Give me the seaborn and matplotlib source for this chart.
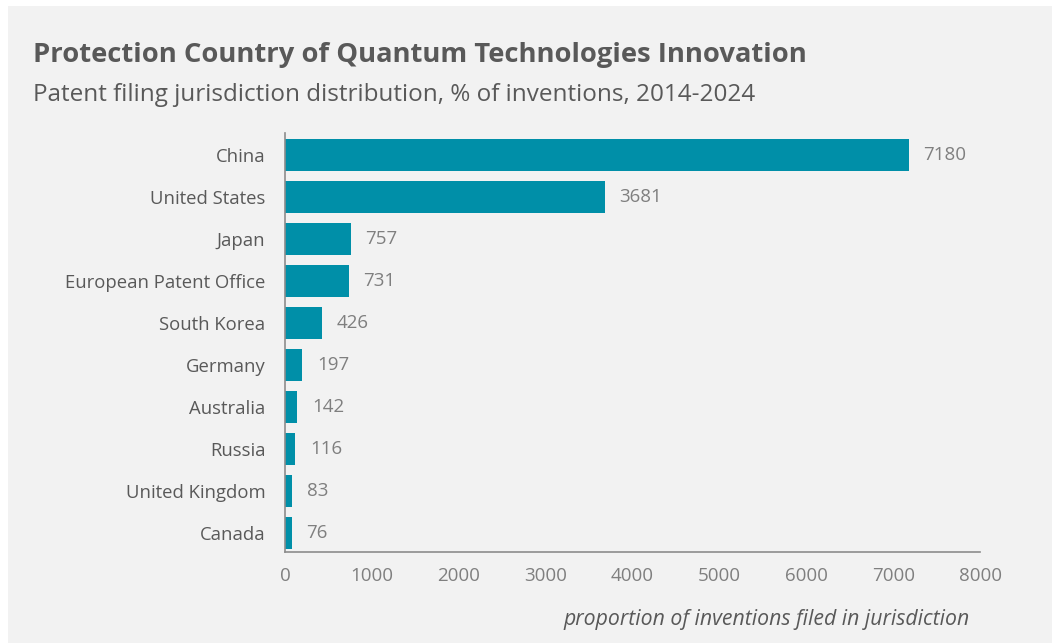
import matplotlib
matplotlib.use("Agg")
import matplotlib.pyplot as plt
import seaborn as sns
import pandas as pd
from matplotlib.patches import Rectangle

# Filing counts per jurisdiction
countries = ["China", "United States", "Japan", "European Patent Office", "South Korea",
             "Germany", "Australia", "Russia", "United Kingdom", "Canada"]
filings = [7180, 3681, 757, 731, 426, 197, 142, 116, 83, 76]
x_ticks = [0, 1000, 2000, 3000, 4000, 5000, 6000, 7000, 8000]

title = "Protection Country of Quantum Technologies Innovation"
subtitle = "Patent filing jurisdiction distribution, % of inventions, 2014-2024"
x_label = "proportion of inventions filed in jurisdiction"

BAR = "#008FA8"
PANEL = "#F2F2F2"
DARK = "#595959"
MID = "#7F7F7F"

sns.set_style("white")
plt.rcParams["font.family"] = ["Open Sans", "DejaVu Sans"]

df = pd.DataFrame({"country": countries, "filings": filings})

fig = plt.figure(figsize=(10.56, 6.43), dpi=100)
fig.patch.set_facecolor("white")
fig.add_artist(Rectangle((8 / 1056, 0), 1044 / 1056, 637 / 643,
                         transform=fig.transFigure, facecolor=PANEL,
                         edgecolor="none", zorder=-10))

ax = fig.add_axes([285 / 1056, 1 - 552 / 643, 695 / 1056, 419 / 643])
ax.set_facecolor("none")

sns.barplot(data=df, x="filings", y="country", color=BAR, width=0.76,
            saturation=1, ax=ax, edgecolor="none")

ax.set_xlim(0, 8000)
ax.set_ylim(9.45, -0.524)
ax.set_xticks(x_ticks)
ax.set_xticklabels([str(t) for t in x_ticks], fontsize=13.5, color=MID)
ax.tick_params(axis="y", labelsize=13.3, labelcolor=DARK, length=0, pad=14)
ax.tick_params(axis="x", length=0, pad=11)
ax.set_ylabel("")
ax.set_xlabel(x_label, fontsize=15.3, color=DARK, style="italic")
ax.xaxis.set_label_coords((970 - 285) / 695, -0.135)
ax.xaxis.label.set_horizontalalignment("right")

for side in ["top", "right"]:
    ax.spines[side].set_visible(False)
for side in ["left", "bottom"]:
    ax.spines[side].set_color("#8C8C8C")
    ax.spines[side].set_linewidth(1.2)

for i, v in enumerate(filings):
    ax.text(v + 170, i, f"{v}", va="center", ha="left", fontsize=13.5, color=MID)

fig.text(33 / 1056, 1 - 55 / 643, title, fontsize=19.7, fontweight="bold",
         color=DARK, va="center", ha="left")
fig.text(33 / 1056, 1 - 95 / 643, subtitle, fontsize=17.5, color=DARK,
         va="center", ha="left")

fig.savefig("out.png", dpi=100, facecolor=fig.get_facecolor())
